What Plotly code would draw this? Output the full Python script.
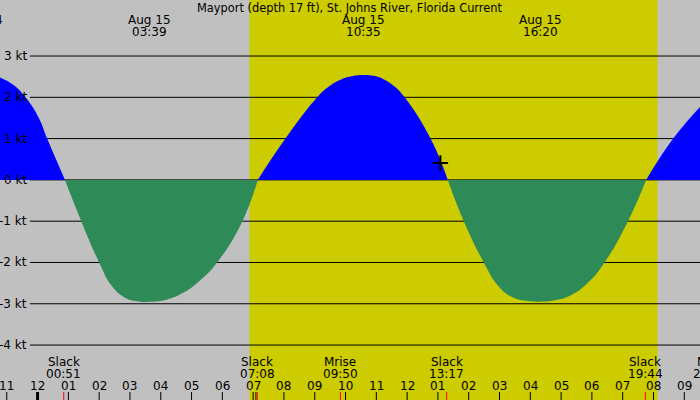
import plotly.graph_objects as go

W, H = 700, 400

# current (kt), time in hours after midnight Aug 15
flow_hours = [-1.22, -0.78, -0.39, 0.04, 0.31, 0.89,
              1.42, 2.00, 2.40, 2.81, 3.23, 3.67, 4.19, 4.74, 5.28, 5.83, 6.65, 7.15,
              8.05, 9.08, 9.44, 9.82, 10.19, 10.58, 10.90, 11.23, 11.58, 11.92, 12.76, 13.32,
              13.84, 14.49, 14.94, 15.39, 15.86, 16.33, 16.84, 17.35, 17.87, 18.41, 19.17, 19.76,
              20.64, 21.53]
flow_knots = [2.48, 2.30, 2.00, 1.50, 1.00, 0.0,
              -1.00, -2.00, -2.56, -2.84, -2.94, -2.95, -2.90, -2.73, -2.43, -2.00, -1.00, 0.0,
              1.00, 2.00, 2.25, 2.42, 2.51, 2.54, 2.52, 2.44, 2.27, 2.00, 1.00, 0.0,
              -1.00, -2.00, -2.55, -2.83, -2.93, -2.95, -2.91, -2.78, -2.49, -2.00, -1.00, 0.0,
              1.00, 1.78]

# max / min current events (top labels)
peak_dates = ["Aug 14", "Aug 15", "Aug 15", "Aug 15"]
peak_clock = ["22:11", "03:39", "10:35", "16:20"]

# slack / moon events (bottom labels)
event_names = ["Slack", "Slack", "Mrise", "Slack", "Slack", "New"]
event_clock = ["00:51", "07:08", "09:50", "13:17", "19:44", "21:51"]

hour_ticks = list(range(-1, 22))
hour_labels = ["11", "12", "01", "02", "03", "04", "05", "06", "07", "08", "09", "10",
               "11", "12", "01", "02", "03", "04", "05", "06", "07", "08", "09"]
extra_ticks = [7.09]

kt_levels = [3, 2, 1, 0, -1, -2, -3, -4]
kt_labels = ["3 kt", "2 kt", "1 kt", "0 kt", "-1 kt", "-2 kt", "-3 kt", "-4 kt"]

sunrise, sunset = 6.88, 20.13
now_hour, now_kt = 13.08, 0.41

title = "Mayport (depth 17 ft), St. Johns River, Florida Current"

X_RANGE = [-1.22, 21.51]
Y_RANGE = [-5.331, 4.357]
FONT = dict(family="DejaVu Sans", size=12, color="black")


def clock_to_hours(clock, date="Aug 15"):
    hh, mm = clock.split(":")
    h = int(hh) + int(mm) / 60
    if date == "Aug 14":
        h -= 24
    return h


def px(h):
    # hour -> paper x (labels near the edges must still be drawn, so no xref="x")
    return (h - X_RANGE[0]) / (X_RANGE[1] - X_RANGE[0])


def py(pix):
    # pixel row from top -> paper y
    return 1 - pix / H


def label(text, x, y, xanchor="center", font=FONT):
    return dict(text=text, xref="paper", yref="paper", x=x, y=y, xanchor=xanchor,
                yanchor="middle", showarrow=False, font=font)


fig = go.Figure()

# split the curve into flood / ebb lobes at each slack
segs = []
cur = []
for t, v in zip(flow_hours, flow_knots):
    cur.append((t, v))
    if v == 0 and len(cur) > 1:
        segs.append(cur)
        cur = [(t, v)]
if len(cur) > 1:
    segs.append(cur)

for seg in segs:
    xs = [p[0] for p in seg]
    ys = [p[1] for p in seg]
    color = "#0000ff" if sum(ys) > 0 else "#2e8b57"
    fig.add_trace(go.Scatter(
        x=xs, y=ys, mode="lines",
        line=dict(width=0, shape="spline", smoothing=1.3, color=color),
        fill="tozeroy", fillcolor=color,
        hoverinfo="skip",
    ))

# "now" mark
fig.add_trace(go.Scatter(
    x=[now_hour], y=[now_kt], mode="markers",
    marker=dict(symbol="cross-thin", size=11, line=dict(width=2, color="black")),
    hoverinfo="skip",
))

shapes = [dict(type="rect", xref="x", yref="paper", x0=sunrise, x1=sunset, y0=0, y1=1,
               fillcolor="#cccc00", line=dict(width=0), layer="below")]

annotations = []
for kt, lab in zip(kt_levels, kt_labels):
    shapes.append(dict(type="line", xref="paper", yref="y", x0=30 / W, x1=1, y0=kt, y1=kt,
                       line=dict(color="black", width=1), layer="below"))
    annotations.append(dict(text=lab, xref="paper", yref="y", x=29 / W, y=kt,
                            xanchor="right", yanchor="middle", showarrow=False, font=FONT))

# hour ticks along the bottom
for h, lab in zip(hour_ticks, hour_labels):
    shapes.append(dict(type="line", xref="x", yref="paper", x0=h, x1=h, y0=0, y1=py(392),
                       line=dict(color="black", width=3 if h == 0 else 1)))
    annotations.append(label(lab, px(h), py(386)))
for h in extra_ticks:
    shapes.append(dict(type="line", xref="x", yref="paper", x0=h, x1=h, y0=0, y1=py(392),
                       line=dict(color="black", width=1)))

# event labels + red ticks
for name, clock in zip(event_names, event_clock):
    h = clock_to_hours(clock)
    shapes.append(dict(type="line", xref="x", yref="paper", x0=h, x1=h, y0=0, y1=py(392),
                       line=dict(color="red", width=1)))
    annotations.append(label(name, px(h), py(362)))
    annotations.append(label(clock, px(h), py(374)))

for date, clock in zip(peak_dates, peak_clock):
    h = clock_to_hours(clock, date)
    annotations.append(label(date, px(h), py(20)))
    annotations.append(label(clock, px(h), py(32)))

annotations.append(label(title, 0.5, py(8),
                         font=dict(family="DejaVu Sans", size=11.4, color="black")))

fig.update_layout(
    width=W, height=H,
    margin=dict(l=0, r=0, t=0, b=0),
    showlegend=False,
    plot_bgcolor="#c0c0c0",
    paper_bgcolor="#c0c0c0",
    xaxis=dict(range=X_RANGE, visible=False, fixedrange=True),
    yaxis=dict(range=Y_RANGE, visible=False, fixedrange=True),
    shapes=shapes,
    annotations=annotations,
)

# page body has an 8px default margin; drop it so the chart sits at 0,0
fig.write_html("out.html", config={"displayModeBar": False},
               post_script="document.body.style.margin='0px';document.body.style.overflow='hidden';")
